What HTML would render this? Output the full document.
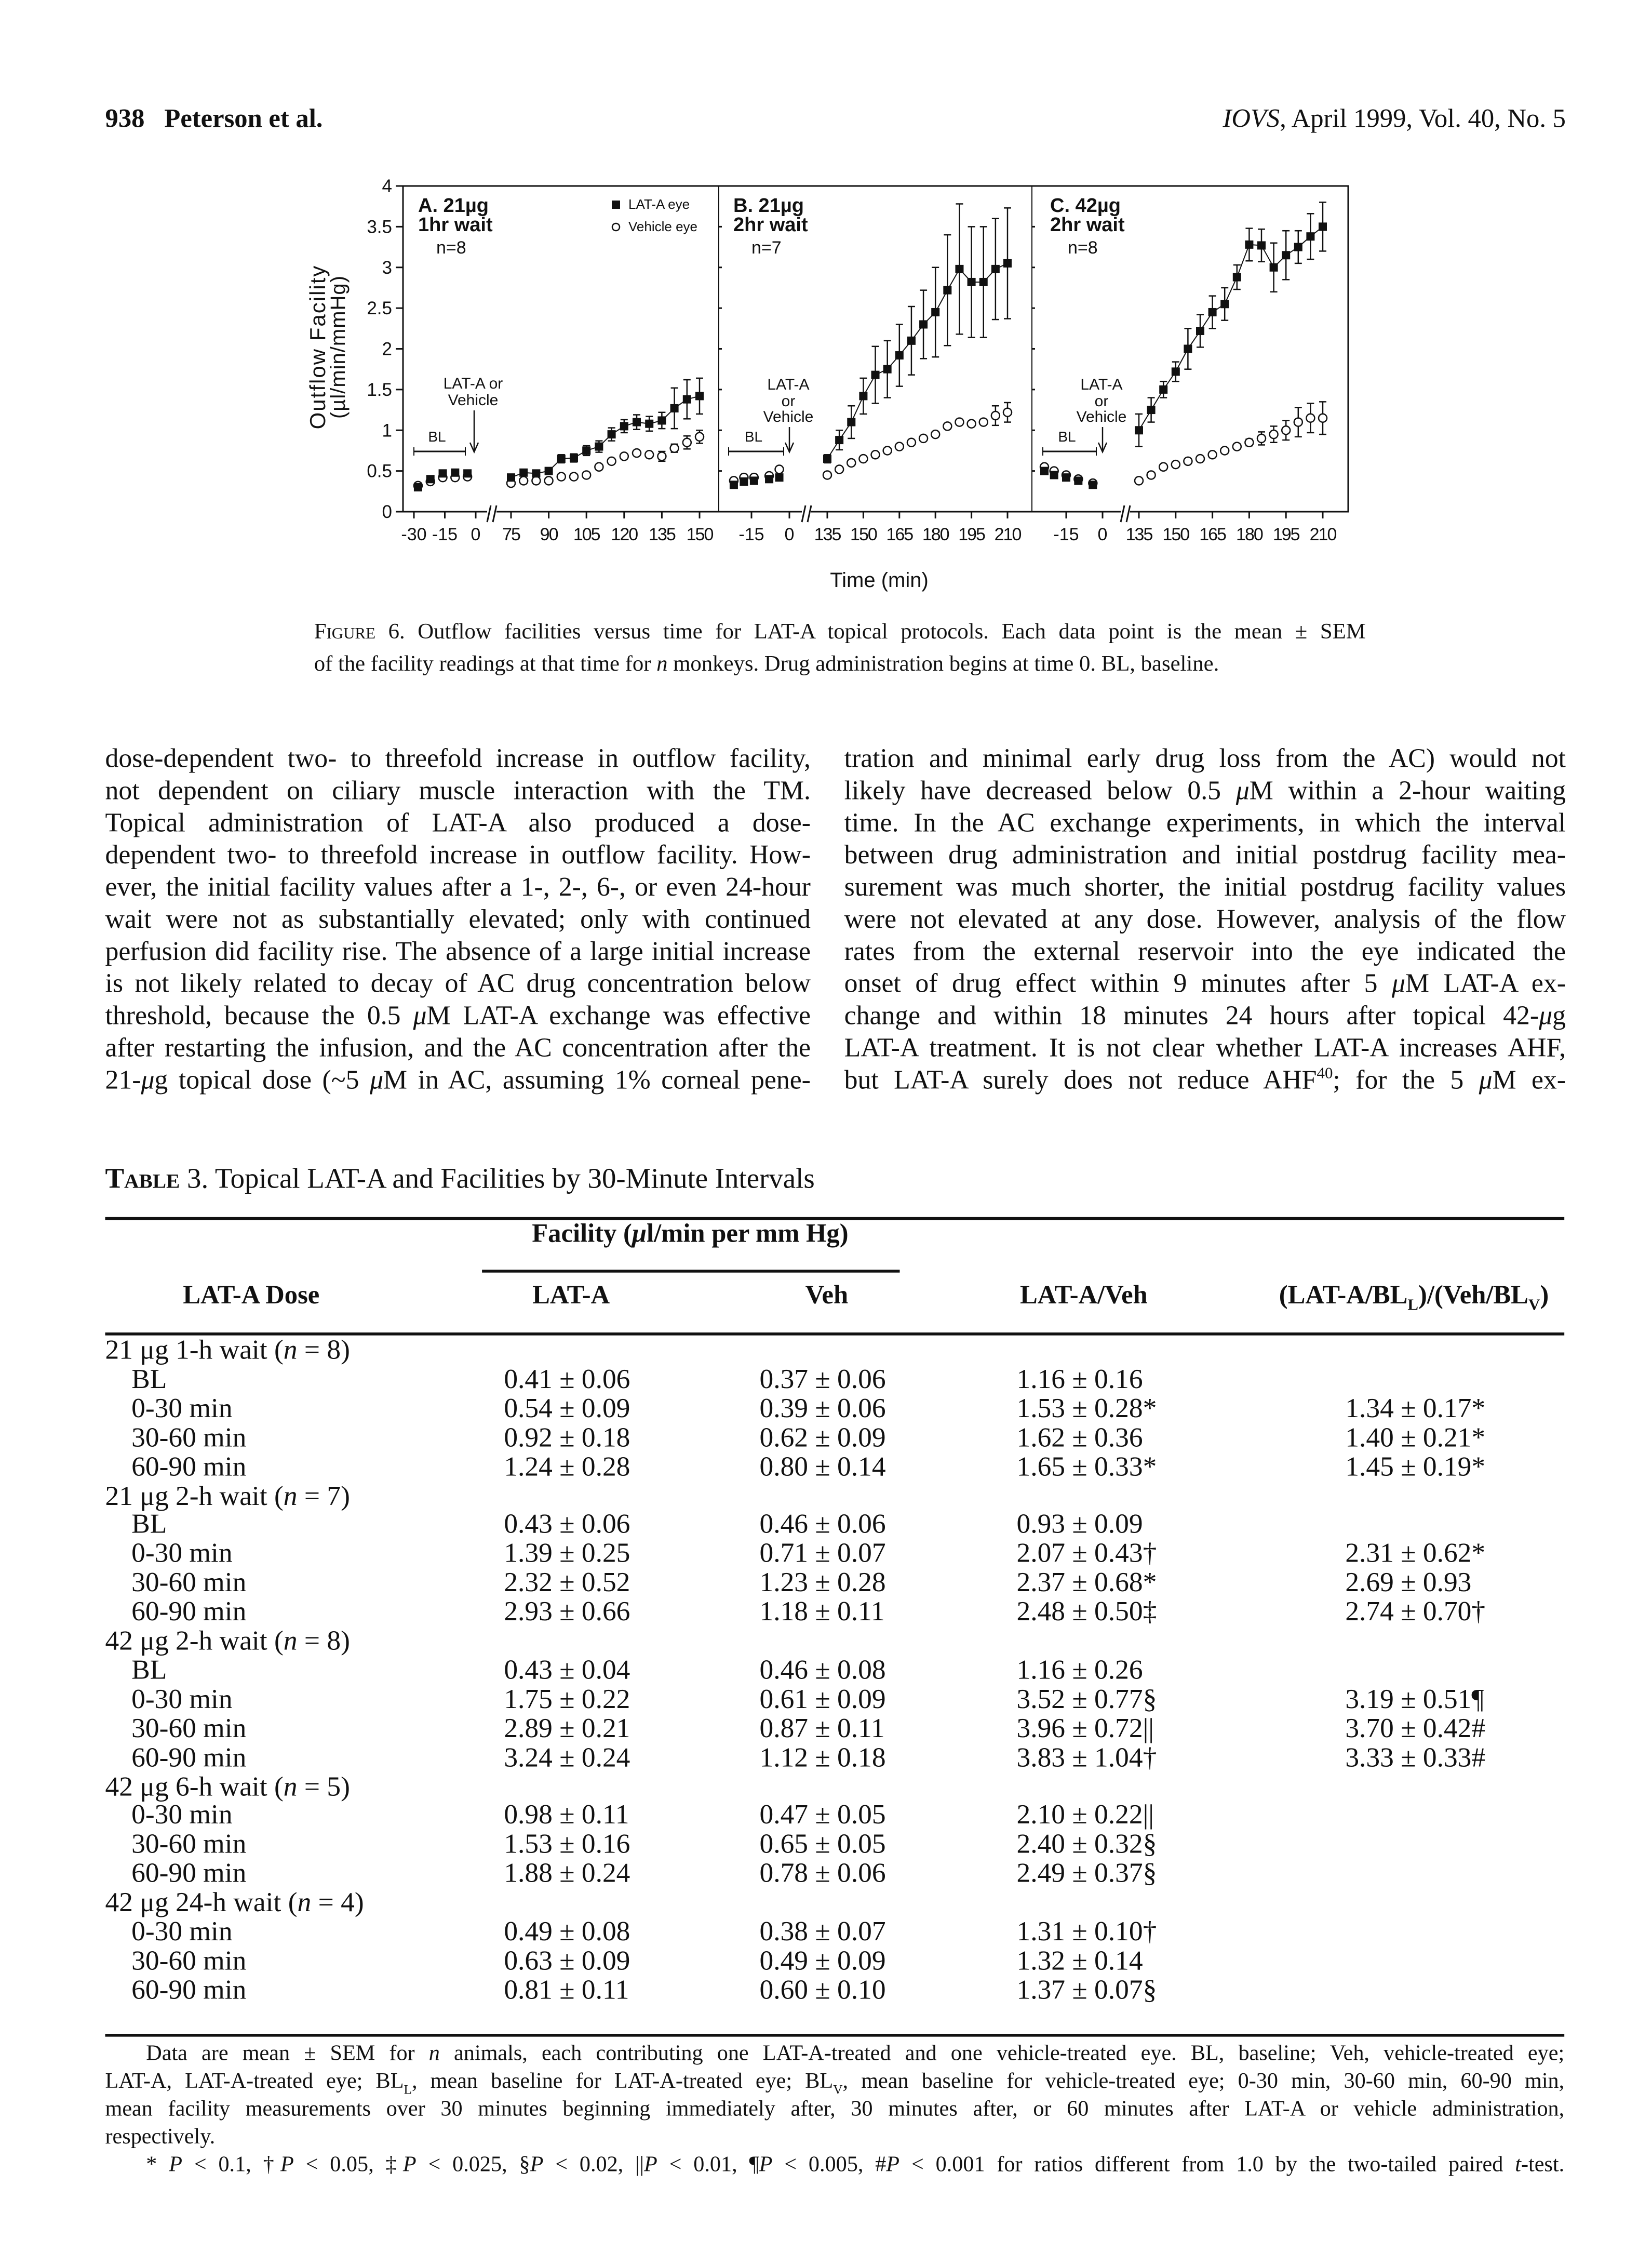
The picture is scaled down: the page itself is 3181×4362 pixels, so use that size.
<!DOCTYPE html>
<html><head><meta charset="utf-8">
<style>
html,body{margin:0;padding:0;background:#fff;}
body{width:3181px;height:4362px;position:relative;overflow:hidden;}
#page{position:absolute;left:0;top:0;width:1131px;height:1551px;transform:scale(2.8125);transform-origin:0 0;font-family:"Liberation Serif",serif;color:#111;}
.abs{position:absolute;white-space:nowrap;line-height:1.15;}
.line{position:absolute;white-space:nowrap;text-align:justify;text-align-last:justify;line-height:1.15;}
.body{font-size:18.4px;}
.cap{font-size:15.2px;}
.sc{font-variant:small-caps;}
.tb{font-size:19px;}
.rule{position:absolute;background:#111;}
.foot{font-size:15px;}
#chart{position:absolute;left:0;top:0;}
</style></head><body>
<div id="page">
  <div class="abs" style="left:72px;top:71px;font-size:18px;font-weight:bold;">938&nbsp;&nbsp; Peterson et al.</div>
  <div class="abs" style="right:59px;top:71px;font-size:18px;"><i>IOVS</i>, April 1999, Vol. 40, No. 5</div>

  <div class="cap">
    <div class="line" style="left:215px;top:424px;width:720px;"><span class="sc">Figure</span> 6. Outflow facilities versus time for LAT-A topical protocols. Each data point is the mean ± SEM</div>
    <div class="abs" style="left:215px;top:446px;">of the facility readings at that time for <i>n</i> monkeys. Drug administration begins at time 0. BL, baseline.</div>
  </div>

  <div class="body">
    <div class="line" style="left:72px;top:509px;width:483px;">dose-dependent two- to threefold increase in outflow facility,</div>
    <div class="line" style="left:72px;top:531px;width:483px;">not dependent on ciliary muscle interaction with the TM.</div>
    <div class="line" style="left:72px;top:553px;width:483px;">Topical administration of LAT-A also produced a dose-</div>
    <div class="line" style="left:72px;top:575px;width:483px;">dependent two- to threefold increase in outflow facility. How-</div>
    <div class="line" style="left:72px;top:597px;width:483px;">ever, the initial facility values after a 1-, 2-, 6-, or even 24-hour</div>
    <div class="line" style="left:72px;top:619px;width:483px;">wait were not as substantially elevated; only with continued</div>
    <div class="line" style="left:72px;top:641px;width:483px;">perfusion did facility rise. The absence of a large initial increase</div>
    <div class="line" style="left:72px;top:663px;width:483px;">is not likely related to decay of AC drug concentration below</div>
    <div class="line" style="left:72px;top:685px;width:483px;">threshold, because the 0.5 <i>μ</i>M LAT-A exchange was effective</div>
    <div class="line" style="left:72px;top:707px;width:483px;">after restarting the infusion, and the AC concentration after the</div>
    <div class="line" style="left:72px;top:729px;width:483px;">21-<i>μ</i>g topical dose (~5 <i>μ</i>M in AC, assuming 1% corneal pene-</div>
  </div>
  <div class="body">
    <div class="line" style="left:578px;top:509px;width:494px;">tration and minimal early drug loss from the AC) would not</div>
    <div class="line" style="left:578px;top:531px;width:494px;">likely have decreased below 0.5 <i>μ</i>M within a 2-hour waiting</div>
    <div class="line" style="left:578px;top:553px;width:494px;">time. In the AC exchange experiments, in which the interval</div>
    <div class="line" style="left:578px;top:575px;width:494px;">between drug administration and initial postdrug facility mea-</div>
    <div class="line" style="left:578px;top:597px;width:494px;">surement was much shorter, the initial postdrug facility values</div>
    <div class="line" style="left:578px;top:619px;width:494px;">were not elevated at any dose. However, analysis of the flow</div>
    <div class="line" style="left:578px;top:641px;width:494px;">rates from the external reservoir into the eye indicated the</div>
    <div class="line" style="left:578px;top:663px;width:494px;">onset of drug effect within 9 minutes after 5 <i>μ</i>M LAT-A ex-</div>
    <div class="line" style="left:578px;top:685px;width:494px;">change and within 18 minutes 24 hours after topical 42-<i>μ</i>g</div>
    <div class="line" style="left:578px;top:707px;width:494px;">LAT-A treatment. It is not clear whether LAT-A increases AHF,</div>
    <div class="line" style="left:578px;top:729px;width:494px;">but LAT-A surely does not reduce AHF<sup style="font-size:11px">40</sup>; for the 5 <i>μ</i>M ex-</div>
  </div>

  <div class="abs" style="left:72px;top:797px;font-size:19.5px;"><span class="sc" style="font-weight:bold">Table</span> 3. Topical LAT-A and Facilities by 30-Minute Intervals</div>
  <div class="rule" style="left:72px;top:833px;width:999px;height:2px;"></div>
  <div class="abs tb" style="left:310px;top:834px;width:325px;text-align:center;font-weight:bold;font-size:18px;">Facility (<i>μ</i>l/min per mm Hg)</div>
  <div class="rule" style="left:330px;top:869px;width:286px;height:1.5px;"></div>
  <div class="abs tb" style="left:62px;top:876px;width:220px;text-align:center;font-weight:bold;font-size:18px;">LAT-A Dose</div>
  <div class="abs tb" style="left:321px;top:876px;width:140px;text-align:center;font-weight:bold;font-size:18px;">LAT-A</div>
  <div class="abs tb" style="left:496px;top:876px;width:140px;text-align:center;font-weight:bold;font-size:18px;">Veh</div>
  <div class="abs tb" style="left:662px;top:876px;width:160px;text-align:center;font-weight:bold;font-size:18px;">LAT-A/Veh</div>
  <div class="abs tb" style="left:852px;top:876px;width:232px;text-align:center;font-weight:bold;font-size:18px;">(LAT-A/BL<sub style="font-size:11px">L</sub>)/(Veh/BL<sub style="font-size:11px">V</sub>)</div>
  <div class="rule" style="left:72px;top:912px;width:999px;height:2px;"></div>
  <div id="rows"></div>
  <div class="rule" style="left:72px;top:1392px;width:999px;height:2px;"></div>

  <div class="foot">
    <div class="line" style="left:100px;top:1398px;width:971px;">Data are mean ± SEM for <i>n</i> animals, each contributing one LAT-A-treated and one vehicle-treated eye. BL, baseline; Veh, vehicle-treated eye;</div>
    <div class="line" style="left:72px;top:1417px;width:999px;">LAT-A, LAT-A-treated eye; BL<sub style="font-size:9px">L</sub>, mean baseline for LAT-A-treated eye; BL<sub style="font-size:9px">V</sub>, mean baseline for vehicle-treated eye; 0-30 min, 30-60 min, 60-90 min,</div>
    <div class="line" style="left:72px;top:1436px;width:999px;">mean facility measurements over 30 minutes beginning immediately after, 30 minutes after, or 60 minutes after LAT-A or vehicle administration,</div>
    <div class="abs" style="left:72px;top:1455px;">respectively.</div>
    <div class="line" style="left:100px;top:1474px;width:971px;">* <i>P</i> &lt; 0.1, †<i>P</i> &lt; 0.05, ‡<i>P</i> &lt; 0.025, §<i>P</i> &lt; 0.02, ||<i>P</i> &lt; 0.01, ¶<i>P</i> &lt; 0.005, #<i>P</i> &lt; 0.001 for ratios different from 1.0 by the two-tailed paired <i>t</i>-test.</div>
  </div>
</div>

<svg id="chart" width="3181" height="4362" font-family="Liberation Sans, sans-serif"></svg>

<script>
// table
const tableRows = [
 ["g","21 μg 1-h wait (<i>n</i> = 8)"],
 ["r","BL","0.41 ± 0.06","0.37 ± 0.06","1.16 ± 0.16",""],
 ["r","0-30 min","0.54 ± 0.09","0.39 ± 0.06","1.53 ± 0.28*","1.34 ± 0.17*"],
 ["r","30-60 min","0.92 ± 0.18","0.62 ± 0.09","1.62 ± 0.36","1.40 ± 0.21*"],
 ["r","60-90 min","1.24 ± 0.28","0.80 ± 0.14","1.65 ± 0.33*","1.45 ± 0.19*"],
 ["g","21 μg 2-h wait (<i>n</i> = 7)"],
 ["r","BL","0.43 ± 0.06","0.46 ± 0.06","0.93 ± 0.09",""],
 ["r","0-30 min","1.39 ± 0.25","0.71 ± 0.07","2.07 ± 0.43†","2.31 ± 0.62*"],
 ["r","30-60 min","2.32 ± 0.52","1.23 ± 0.28","2.37 ± 0.68*","2.69 ± 0.93"],
 ["r","60-90 min","2.93 ± 0.66","1.18 ± 0.11","2.48 ± 0.50‡","2.74 ± 0.70†"],
 ["g","42 μg 2-h wait (<i>n</i> = 8)"],
 ["r","BL","0.43 ± 0.04","0.46 ± 0.08","1.16 ± 0.26",""],
 ["r","0-30 min","1.75 ± 0.22","0.61 ± 0.09","3.52 ± 0.77§","3.19 ± 0.51¶"],
 ["r","30-60 min","2.89 ± 0.21","0.87 ± 0.11","3.96 ± 0.72||","3.70 ± 0.42#"],
 ["r","60-90 min","3.24 ± 0.24","1.12 ± 0.18","3.83 ± 1.04†","3.33 ± 0.33#"],
 ["g","42 μg 6-h wait (<i>n</i> = 5)"],
 ["r","0-30 min","0.98 ± 0.11","0.47 ± 0.05","2.10 ± 0.22||",""],
 ["r","30-60 min","1.53 ± 0.16","0.65 ± 0.05","2.40 ± 0.32§",""],
 ["r","60-90 min","1.88 ± 0.24","0.78 ± 0.06","2.49 ± 0.37§",""],
 ["g","42 μg 24-h wait (<i>n</i> = 4)"],
 ["r","0-30 min","0.49 ± 0.08","0.38 ± 0.07","1.31 ± 0.10†",""],
 ["r","30-60 min","0.63 ± 0.09","0.49 ± 0.09","1.32 ± 0.14",""],
 ["r","60-90 min","0.81 ± 0.11","0.60 ± 0.10","1.37 ± 0.07§",""]
];
const rowsEl=document.getElementById('rows');
const colX=[90,345,520,696,921];
tableRows.forEach((r,i)=>{
  const top=914+i*19.9;
  if(r[0]==="g"){
    const d=document.createElement('div');d.className='abs tb';d.style.left='72px';d.style.top=top+'px';d.innerHTML=r[1];
    
    
    rowsEl.appendChild(d);
  } else {
    for(let c=0;c<5;c++){ if(!r[c+1]) continue;
      const d=document.createElement('div');d.className='abs tb';d.style.left=colX[c]+'px';d.style.top=top+'px';d.textContent=r[c+1];
      
      
      rowsEl.appendChild(d);
    }
  }
});

// chart data
const yTicks=[0,0.5,1,1.5,2,2.5,3,3.5,4];
const preTimesA=[-28,-22,-16,-10,-4];
const preTimesB=[-22,-18,-14,-8,-4];
const preTimesC=[-24,-20,-15,-10,-4];
const postTimesA=[75,80,85,90,95,100,105,110,115,120,125,130,135,140,145,150];
const postTimesBC=[135,140,145,150,155,160,165,170,175,180,185,190,195,200,205,210];
const latPreA=[0.30,0.40,0.47,0.48,0.47];
const vehPreA=[0.32,0.37,0.42,0.42,0.43];
const latPostA=[0.42,0.48,0.47,0.50,0.65,0.66,0.75,0.80,0.95,1.05,1.10,1.08,1.12,1.27,1.38,1.42];
const vehPostA=[0.35,0.38,0.38,0.38,0.43,0.43,0.45,0.55,0.62,0.68,0.72,0.70,0.68,0.78,0.85,0.92];
const latErrA=[0.03,0.03,0.03,0.04,0.05,0.05,0.06,0.07,0.08,0.08,0.09,0.09,0.1,0.25,0.24,0.22];
const vehErrA=[0.02,0.02,0.02,0.02,0.02,0.02,0.02,0.02,0.02,0.02,0.02,0.02,0.06,0.05,0.08,0.08];
const latPreB=[0.33,0.37,0.38,0.40,0.42];
const vehPreB=[0.38,0.42,0.42,0.44,0.52];
const latPostB=[0.65,0.88,1.10,1.42,1.68,1.75,1.92,2.10,2.30,2.45,2.72,2.98,2.82,2.82,2.98,3.05];
const vehPostB=[0.45,0.52,0.60,0.65,0.70,0.75,0.80,0.85,0.90,0.95,1.05,1.10,1.08,1.10,1.18,1.22];
const latErrB=[0.05,0.12,0.2,0.22,0.35,0.35,0.38,0.42,0.42,0.55,0.68,0.8,0.68,0.68,0.62,0.68];
const vehErrB=[0.02,0.02,0.02,0.02,0.02,0.02,0.02,0.02,0.02,0.02,0.02,0.02,0.02,0.02,0.12,0.12];
const latPreC=[0.50,0.45,0.42,0.38,0.33];
const vehPreC=[0.55,0.50,0.45,0.40,0.35];
const latPostC=[1.00,1.25,1.50,1.72,2.00,2.22,2.45,2.55,2.88,3.28,3.27,3.00,3.15,3.25,3.38,3.50];
const vehPostC=[0.38,0.45,0.55,0.58,0.62,0.65,0.70,0.75,0.80,0.85,0.90,0.95,1.00,1.10,1.15,1.15];
const latErrC=[0.2,0.15,0.1,0.12,0.25,0.2,0.2,0.2,0.15,0.2,0.2,0.3,0.3,0.2,0.28,0.3];
const vehErrC=[0.02,0.02,0.02,0.02,0.02,0.02,0.02,0.02,0.02,0.04,0.08,0.1,0.12,0.18,0.18,0.2];
const preTickLabelsA=[-30,-15,0];
const preTickLabelsBC=[-15,0];
const postTickLabelsA=[75,90,105,120,135,150];
const postTickLabelsBC=[135,150,165,180,195,210];

const NS='http://www.w3.org/2000/svg';
const svg=document.getElementById('chart');
function el(tag,attrs,parent){const e=document.createElementNS(NS,tag);for(const k in attrs)e.setAttribute(k,attrs[k]);(parent||svg).appendChild(e);return e;}
function txt(x,y,s,size,anchor,extra){const t=el('text',Object.assign({x:x,y:y,'font-size':size,'text-anchor':anchor||'start',fill:'#111'},extra||{}));t.textContent=s;return t;}
const Y0=985,Y4=358;
function ys(v){return Y0-(v/4)*(Y0-Y4);}
function lin(d0,d1,p0,p1){return t=>p0+(t-d0)*(p1-p0)/(d1-d0);}

const frame=el('rect',{x:776,y:358,width:1820,height:627,fill:'none',stroke:'#111','stroke-width':3});


[1384,1987].forEach(x=>{const l=el('line',{x1:x,y1:358,x2:x,y2:985,stroke:'#111','stroke-width':2});
 
 });
yTicks.forEach(v=>{
  const y=ys(v);
  el('line',{x1:762,y1:y,x2:776,y2:y,stroke:'#111','stroke-width':3});
  [1384,1987].forEach(x=>el('line',{x1:x,y1:y,x2:x+6,y2:y,stroke:'#111','stroke-width':3}));
  const t=txt(755,y+12,String(v),35,'end');
  
  
});
const yt=el('text',{x:0,y:0,'font-size':42,'text-anchor':'middle',fill:'#111',transform:'translate(626,668) rotate(-90)','letter-spacing':2});
yt.textContent='Outflow Facility';


const yt2=el('text',{x:0,y:0,'font-size':40,'text-anchor':'middle',fill:'#111',transform:'translate(664,668) rotate(-90)','letter-spacing':1});
yt2.textContent='(µl/min/mmHg)';


const xt=txt(1693,1130,'Time (min)',40,'middle');



const panels=[
 {name:'a',pre:lin(-30,0,797,916),post:lin(75,150,984,1347),preT:preTimesA,postT:postTimesA,lp:latPreA,vp:vehPreA,lq:latPostA,vq:vehPostA,le:latErrA,ve:vehErrA,preTicks:preTickLabelsA,postTicks:postTickLabelsA,brk:947,title:['A. 21µg','1hr wait','n=8'],tx:805,nx:840,
  lab:['LAT-A or','Vehicle'],labY:[748,780],arrowX:913,bl:[797,896]},
 {name:'b',pre:lin(-15,0,1447,1520),post:lin(135,210,1593,1940),preT:preTimesB,postT:postTimesBC,lp:latPreB,vp:vehPreB,lq:latPostB,vq:vehPostB,le:latErrB,ve:vehErrB,preTicks:preTickLabelsBC,postTicks:postTickLabelsBC,brk:1553,title:['B. 21µg','2hr wait','n=7'],tx:1412,nx:1447,
  lab:['LAT-A','or','Vehicle'],labY:[750,782,812],arrowX:1520,bl:[1403,1509]},
 {name:'c',pre:lin(-15,0,2053,2123),post:lin(135,210,2193,2547),preT:preTimesC,postT:postTimesBC,lp:latPreC,vp:vehPreC,lq:latPostC,vq:vehPostC,le:latErrC,ve:vehErrC,preTicks:preTickLabelsBC,postTicks:postTickLabelsBC,brk:2167,title:['C. 42µg','2hr wait','n=8'],tx:2022,nx:2056,
  lab:['LAT-A','or','Vehicle'],labY:[750,782,812],arrowX:2123,bl:[2008,2111]}
];
panels.forEach(p=>{
  const g=el('g',{});
  
  
  p.preTicks.forEach(t=>{const x=p.pre(t);el('line',{x1:x,y1:985,x2:x,y2:998,stroke:'#111','stroke-width':3},g);
    const l=txt(x,1040,String(t),34,'middle');g.appendChild(l);
    
    });
  p.postTicks.forEach(t=>{const x=p.post(t);el('line',{x1:x,y1:985,x2:x,y2:998,stroke:'#111','stroke-width':3},g);
    const l=txt(x,1040,String(t),34,'middle',{'letter-spacing':-2});g.appendChild(l);
    
    });
  el('rect',{x:p.brk-9,y:975,width:18,height:22,fill:'#fff'},g);
  el('line',{x1:p.brk-9,y1:1005,x2:p.brk-2,y2:973,stroke:'#111','stroke-width':3},g);
  el('line',{x1:p.brk+2,y1:1005,x2:p.brk+9,y2:973,stroke:'#111','stroke-width':3},g);
  const t1=txt(p.tx,408,p.title[0],38,'start',{'font-weight':'bold'});g.appendChild(t1);
  
  
  g.appendChild(txt(p.tx,445,p.title[1],38,'start',{'font-weight':'bold'}));
  g.appendChild(txt(p.nx,488,p.title[2],34,'start'));
  p.lab.forEach((s,i)=>g.appendChild(txt(p.arrowX-2,p.labY[i],s,30,'middle')));
  el('line',{x1:p.arrowX,y1:p.labY[p.labY.length-1]+10,x2:p.arrowX,y2:868,stroke:'#111','stroke-width':2.5},g);
  el('path',{d:`M${p.arrowX-8},852 L${p.arrowX},870 L${p.arrowX+8},852`,fill:'none',stroke:'#111','stroke-width':2.5},g);
  g.appendChild(txt((p.bl[0]+p.bl[1])/2-5,850,'BL',28,'middle'));
  el('line',{x1:p.bl[0],y1:869,x2:p.bl[1],y2:869,stroke:'#111','stroke-width':3},g);
  el('line',{x1:p.bl[0],y1:861,x2:p.bl[0],y2:877,stroke:'#111','stroke-width':2},g);
  el('line',{x1:p.bl[1],y1:861,x2:p.bl[1],y2:877,stroke:'#111','stroke-width':2},g);
  function errBar(x,v,e,dir){const y1=ys(v),y2=ys(v+dir*e);el('line',{x1:x,y1:y1,x2:x,y2:y2,stroke:'#111','stroke-width':2.5},g);el('line',{x1:x-7,y1:y2,x2:x+7,y2:y2,stroke:'#111','stroke-width':2.5},g);}
  const pts=p.postT.map((t,i)=>p.post(t)+','+ys(p.lq[i])).join(' ');
  el('polyline',{points:pts,fill:'none',stroke:'#111','stroke-width':2},g);
  p.postT.forEach((t,i)=>{const x=p.post(t);errBar(x,p.lq[i],p.le[i],1);errBar(x,p.lq[i],p.le[i],-1);errBar(x,p.vq[i],p.ve[i],1);errBar(x,p.vq[i],p.ve[i],-1);});
  function circ(x,v){const c=el('circle',{cx:x,cy:ys(v),r:8,fill:'#fff',stroke:'#111','stroke-width':2.5},g);
    
    }
  function sq(x,v){const r=el('rect',{x:x-8,y:ys(v)-8,width:16,height:16,fill:'#111'},g);
    
    }
  p.preT.forEach((t,i)=>{circ(p.pre(t),p.vp[i]);sq(p.pre(t),p.lp[i]);});
  p.postT.forEach((t,i)=>{circ(p.post(t),p.vq[i]);sq(p.post(t),p.lq[i]);});
});
const lg=el('g',{});


el('rect',{x:1178,y:386,width:16,height:16,fill:'#111'},lg);
lg.appendChild(txt(1210,402,'LAT-A eye',26,'start'));
el('circle',{cx:1186,cy:437,r:7,fill:'#fff',stroke:'#111','stroke-width':2.5},lg);
lg.appendChild(txt(1210,445,'Vehicle eye',26,'start'));
</script>
</body></html>
